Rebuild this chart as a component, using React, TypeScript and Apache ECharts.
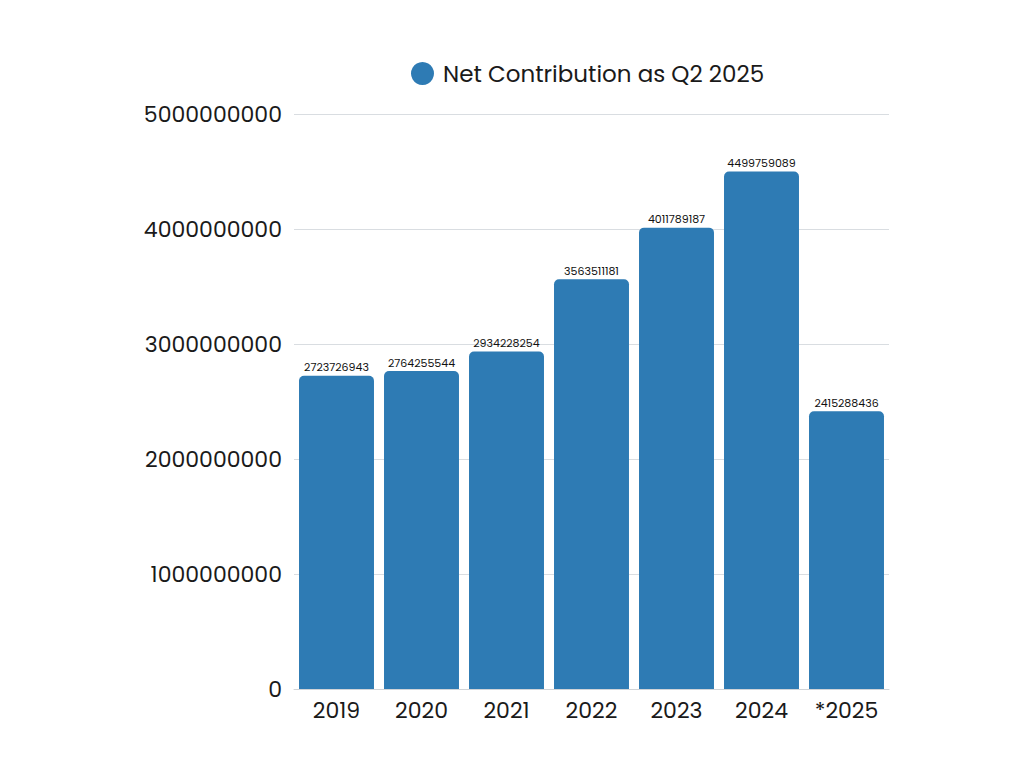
import React, { useEffect, useRef } from "react";
import * as echarts from "echarts";

const categories = ["2019", "2020", "2021", "2022", "2023", "2024", "*2025"];
const netContribution = [2723726943, 2764255544, 2934228254, 3563511181, 4011789187, 4499759089, 2415288436];
const seriesName = "Net Contribution as Q2 2025";

export default function App() {
  const ref = useRef<HTMLDivElement>(null);
  useEffect(() => {
    if (!ref.current) return;
    const chart = echarts.init(ref.current, undefined, { renderer: "svg" });
    const font = "Poppins, 'Open Sans', 'Noto Sans', sans-serif";
    chart.setOption({
      animation: false,
      textStyle: { fontFamily: font },
      legend: {
        data: [seriesName],
        top: 57,
        left: 406,
        icon: "circle",
        itemWidth: 23,
        itemHeight: 23,
        itemGap: 8,
        textStyle: { fontSize: 23, color: "#1a1a1a", fontFamily: font, padding: [0, 0, 0, 4] },
      },
      grid: { left: 294, right: 135, top: 114, bottom: 79, containLabel: false },
      xAxis: {
        type: "category",
        data: categories,
        axisTick: { show: false },
        axisLine: { show: true, lineStyle: { color: "#d0d4d8" } },
        axisLabel: { fontSize: 22, color: "#1a1a1a", margin: 10, fontFamily: font },
      },
      yAxis: {
        type: "value",
        min: 0,
        max: 5000000000,
        interval: 1000000000,
        axisLabel: {
          fontSize: 22,
          color: "#1a1a1a",
          margin: 12,
          fontFamily: font,
          formatter: (v: number) => String(v),
        },
        splitLine: { lineStyle: { color: "#d9dde1", width: 1 } },
        axisLine: { show: false },
        axisTick: { show: false },
      },
      series: [
        {
          name: seriesName,
          type: "bar",
          data: netContribution,
          barCategoryGap: "11.8%",
          itemStyle: { color: "#2e7bb4", borderRadius: [5, 5, 0, 0] },
          label: {
            show: true,
            position: "top",
            distance: 3,
            fontSize: 11,
            color: "#111",
            fontFamily: font,
          },
        },
      ],
    });
    return () => chart.dispose();
  }, []);
  return <div ref={ref} style={{ width: 1024, height: 768, margin: -8 }} />;
}
